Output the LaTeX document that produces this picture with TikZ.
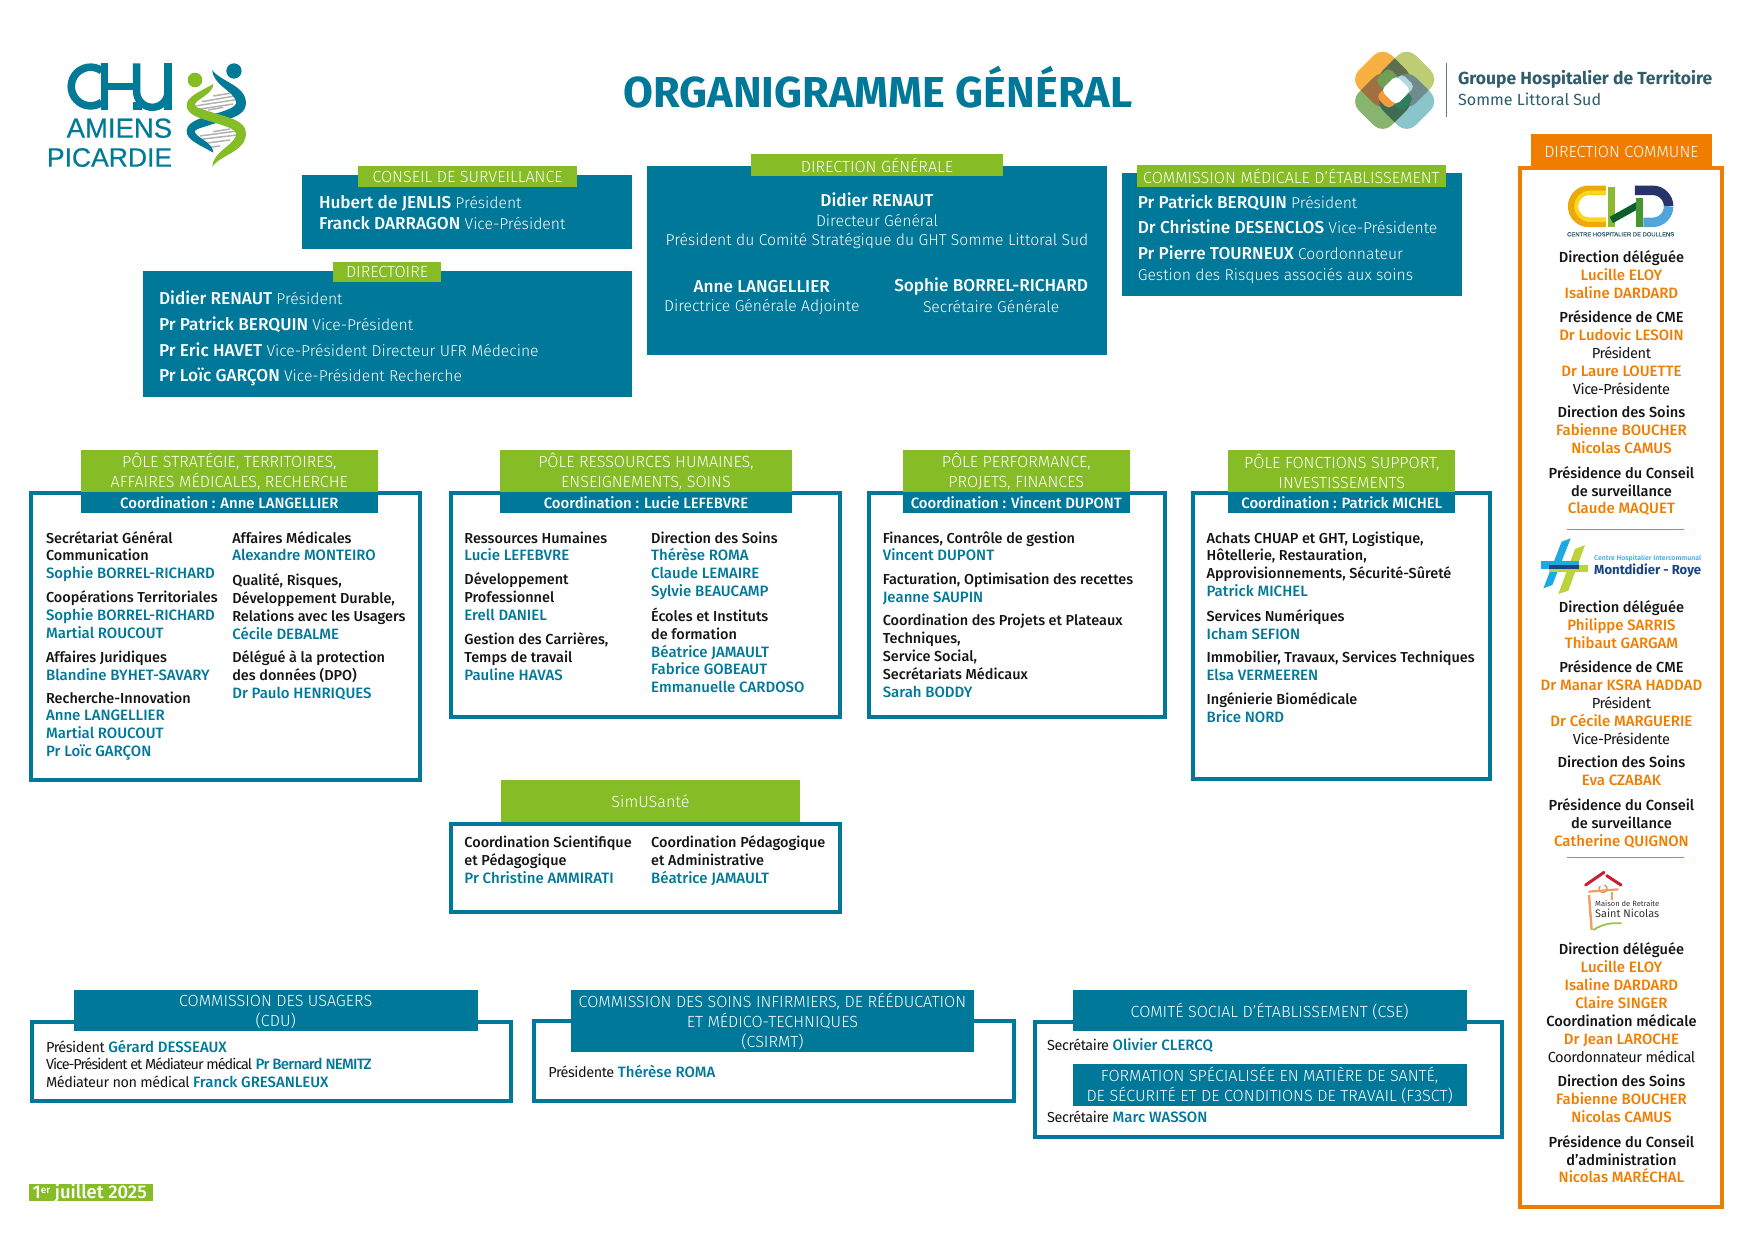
\documentclass[tikz,border=0pt]{standalone}
\usepackage{fontspec}
\usepackage{graphicx}
\setmainfont{Fira Sans}[BoldFont={Fira Sans Medium}]
\newfontfamily\lightf{Fira Sans Light}
\newfontfamily\boldf{Fira Sans}[UprightFont={Fira Sans Bold}]
\newfontfamily\arialf{Liberation Sans}[FakeBold=0.5]
\definecolor{chub}{HTML}{00789A}
\definecolor{chug}{HTML}{86BC25}
\definecolor{chuo}{HTML}{F07D00}
\definecolor{ink}{HTML}{141414}
\definecolor{slate}{HTML}{2F5D6B}
\newcommand{\nm}[1]{\textcolor{chub}{\fontsize{15}{17.9}\selectfont #1}}
\newcommand{\on}[1]{\textcolor{chuo}{\fontsize{15}{17.9}\selectfont #1}}
\newcommand{\lt}[1]{{\lightf\mdseries\fontsize{15.7}{20}\selectfont #1}}
\newcommand{\rg}[1]{{\mdseries\addfontfeature{LetterSpace=-3}#1}}
\tikzset{
 bodytext/.style={anchor=north west,inner sep=0,align=left,text=ink,font=\fontsize{14.45}{17.9}\selectfont\bfseries},
 boxtext/.style={anchor=north west,inner sep=0,align=left,text=white,font=\fontsize{17.2}{20}\selectfont\bfseries},
 boxmid/.style={inner sep=0,align=center,text=white,font=\fontsize{17.2}{20}\selectfont\bfseries},
 sidetext/.style={anchor=north,inner sep=0,align=center,text=ink,font=\fontsize{14.6}{17.9}\selectfont\bfseries},
 headtext/.style={inner sep=0,align=center,text=white,font=\fontsize{16.15}{20}\selectfont\lightf},
 coordtext/.style={inner sep=0,align=center,text=white,font=\fontsize{14.9}{17}\selectfont\bfseries},
 frameline/.style={draw=chub,line width=4pt,fill=white},
 sideframe/.style={draw=chuo,line width=4.2pt,fill=white},
 logoA/.style={x=0.3333pt,y=-0.3333pt,shift={(0pt,-30pt)}},
 logoB/.style={x=0.3333pt,y=-0.3333pt,shift={(1320pt,-30pt)}},
 logoC/.style={x=0.3333pt,y=-0.3333pt,shift={(1500pt,-520pt)}},
 logoD/.style={x=0.3333pt,y=-0.3333pt,shift={(1540pt,-860pt)}},
 lobe/.style={rounded corners=13pt},
 petal/.style={rounded corners=5pt},
}
\newcommand{\tb}[4]{\node[bodytext] (#1) at (#2,{#3-5.9}) {\strut #4};}
\newcommand{\wb}[4]{\node[boxtext] (#1) at (#2,{#3-7.3}) {\strut #4};}
\newcommand{\sd}[3]{\node[sidetext] (#1) at (1449.5,{#2-5.9}) {\strut #3};}
\newcommand{\tabbox}[7]{\fill[#6] (#2,#3) rectangle (#4,#5);
 \node[headtext] (#1) at ({(#2+#4)/2},{(#3+#5)/2+0.5}) {#7};}
\newcommand{\coordbox}[5]{\fill[chub] (#2,#3) rectangle (#4,#3+19);
 \node[coordtext] (#1) at ({(#2+#4)/2},#3+9.5) {#5};}
\newcommand{\lobeA}{(188,49) -- (287,148) -- (188,247) -- (89,148) -- cycle}
\newcommand{\lobeB}{(260,49) -- (359,148) -- (260,247) -- (161,148) -- cycle}
\newcommand{\lobeC}{(260,115) -- (359,214) -- (260,313) -- (161,214) -- cycle}
\newcommand{\lobeD}{(188,115) -- (287,214) -- (188,313) -- (89,214) -- cycle}
\begin{document}
\begin{tikzpicture}[x=1.11862pt,y=-1.11862pt]
\useasboundingbox (0,0) rectangle (1568,1108.5);
\fill[white] (0,0) rectangle (1568,1108.5);

% ---- CHU logo
\begin{scope}[logoA]
 \definecolor{lg}{HTML}{007A97}
 \draw[lg,line width=7.6pt] (305,122) arc[start angle=-55,end angle=-305,radius=58];
 \draw[lg,line width=7.4pt] (314,100) -- (314,240);
 \draw[lg,line width=7.4pt] (314,170) -- (410,170);
 \draw[lg,line width=7.4pt] (410,100) -- (410,185) arc[start angle=180,end angle=0,radius=47] (504,185) -- (504,100);
 \draw[lg,line width=7.4pt] (504,100) -- (504,240);
 \fill[lg] (400,215) rectangle (425,240);
 \node[anchor=base east,inner sep=0,text=lg,font=\fontsize{27.5}{30}\selectfont\arialf] (logoamiens) at (517,323) {AMIENS};
 \node[anchor=base east,inner sep=0,text=lg,font=\fontsize{26.5}{30}\selectfont\arialf] (logopicardie) at (517,410) {PICARDIE};
 \foreach \a/\b/\c/\d in {640/198/690/190,605/215/705/198,585/228/715/208,595/238/700/222,625/240/670/232,640/305/690/297,600/318/712/303,585/330/712/315,600/342/690/330,630/352/660/348}
   \draw[gray!60,line width=1.5pt] (\a,\b) -- (\c,\d);
 \fill[lg] (640,368) .. controls (600,345) and (558,330) .. (560,302) .. controls (562,268) and (620,262) .. (680,240) .. controls (700,232) and (712,225) .. (708,212) .. controls (695,180) and (640,165) .. (637,120) .. controls (660,155) and (738,165) .. (738,220) .. controls (738,260) and (680,268) .. (630,285) .. controls (600,295) and (580,298) .. (585,308) .. controls (595,325) and (640,340) .. (640,368) -- cycle;
 \fill[chug] (640,162) .. controls (600,185) and (558,200) .. (560,228) .. controls (562,262) and (620,268) .. (680,290) .. controls (700,298) and (712,305) .. (708,318) .. controls (695,350) and (640,365) .. (637,410) .. controls (660,375) and (738,365) .. (738,310) .. controls (738,270) and (680,262) .. (630,245) .. controls (600,235) and (580,232) .. (585,222) .. controls (595,205) and (640,190) .. (640,162) -- cycle;
 \fill[chug] (585,150) circle[radius=22];
 \fill[lg] (702,123) circle[radius=23];
\end{scope}

% ---- Title
\node[inner sep=0,text=chub,font=\fontsize{43.3}{46}\selectfont\boldf] (title) at (785,77.5) {ORGANIGRAMME GÉNÉRAL};

% ---- GHT logo
\begin{scope}[logoB]
 \fill[lobe,color={rgb,255:red,249;green,176;blue,67}] \lobeA;
 \fill[lobe,color={rgb,255:red,190;green,204;blue,115}] \lobeB;
 \fill[lobe,color={rgb,255:red,137;green,197;blue,203}] \lobeC;
 \fill[lobe,color={rgb,255:red,135;green,180;blue,110}] \lobeD;
 \begin{scope}\clip[lobe] \lobeA; \fill[lobe,color={rgb,255:red,94;green,110;blue,78}] \lobeB; \end{scope}
 \begin{scope}\clip[lobe] \lobeA; \fill[lobe,color={rgb,255:red,160;green,111;blue,66}] \lobeD; \end{scope}
 \begin{scope}\clip[lobe] \lobeB; \fill[lobe,color={rgb,255:red,111;green,139;blue,140}] \lobeC; \end{scope}
 \begin{scope}\clip[lobe] \lobeC; \fill[lobe,color={rgb,255:red,62;green,108;blue,82}] \lobeD; \end{scope}
 \fill[petal,color={rgb,255:red,112;green,160;blue,84}] (205,112) -- (245,152) -- (205,192) -- (165,152) -- cycle;
 \fill[petal,color={rgb,255:red,181;green,216;blue,220}] (245,130) -- (285,170) -- (245,210) -- (205,170) -- cycle;
 \fill[petal,color={rgb,255:red,47;green,127;blue,95}] (245,170) -- (282,207) -- (245,245) -- (208,207) -- cycle;
 \fill[petal,color={rgb,255:red,247;green,154;blue,60}] (205,165) -- (245,205) -- (205,238) -- (168,200) -- cycle;
 \fill[white,rounded corners=5pt] (228,136) -- (273,181) -- (228,226) -- (183,181) -- cycle;
 \draw[slate!80,line width=.8pt] (380,100) -- (380,260);
 \node[anchor=base west,inner sep=0,text=slate] (ghta) at (414,164) {\resizebox{254pt}{!}{\boldf\fontsize{20}{22}\selectfont Groupe Hospitalier de Territoire}};
 \node[anchor=base west,inner sep=0,text=slate] (ghtb) at (414,227) {\resizebox{143pt}{!}{\mdseries\fontsize{20}{22}\selectfont Somme Littoral Sud}};
\end{scope}

% ---- Top boxes
\fill[chub] (270,156) rectangle (565,223);
\tabbox{tcs}{320}{148}{516}{167}{chug}{CONSEIL DE SURVEILLANCE}
\wb{cs1}{285}{181}{Hubert de JENLIS \lt{Président}}
\wb{cs2}{285}{200}{Franck DARRAGON \lt{Vice-Président}}

\fill[chub] (128,242) rectangle (565,355);
\tabbox{tdi}{298}{234}{394}{252}{chug}{DIRECTOIRE}
\wb{di1}{142}{267}{Didier RENAUT \lt{Président}}
\wb{di2}{142}{290}{Pr Patrick BERQUIN \lt{Vice-Président}}
\wb{di3}{142}{313}{Pr Eric HAVET \lt{Vice-Président Directeur UFR Médecine}}
\wb{di4}{142}{336}{Pr Loïc GARÇON \lt{Vice-Président Recherche}}

\fill[chub] (578,148) rectangle (990,317);
\tabbox{tdg}{671}{138}{897}{157}{chug}{DIRECTION GÉNÉRALE}
\node[boxmid] (dg1) at (784,179) {Didier RENAUT};
\node[boxmid] (dg2) at (784,197) {\lt{Directeur Général}};
\node[boxmid] (dg3) at (784,215) {\lt{Président du Comité Stratégique du GHT Somme Littoral Sud}};
\node[boxmid] (dg4) at (681,256) {Anne LANGELLIER};
\node[boxmid] (dg5) at (681,274) {\lt{Directrice Générale Adjointe}};
\node[boxmid] (dg6) at (886,256) {Sophie BORREL-RICHARD};
\node[boxmid] (dg7) at (886,274) {\lt{Secrétaire Générale}};

\fill[chub] (1003,155) rectangle (1307,265);
\tabbox{tcm}{1016}{147.5}{1293}{167}{chug}{COMMISSION MÉDICALE D’ÉTABLISSEMENT}
\wb{cm1}{1017}{181}{Pr Patrick BERQUIN \lt{Président}}
\wb{cm2}{1017}{203}{Dr Christine DESENCLOS \lt{Vice-Présidente}}
\wb{cm3}{1017}{227}{Pr Pierre TOURNEUX \lt{Coordonnateur}}
\wb{cm4}{1017}{245}{\lt{Gestion des Risques associés aux soins}}

% ---- Pole 1
\draw[frameline] (27.8,440.8) rectangle (375.6,697.5);
\tabbox{tp1}{72}{402}{338}{440}{chug}{PÔLE STRATÉGIE, TERRITOIRES,\\AFFAIRES MÉDICALES, RECHERCHE}
\coordbox{cp1}{72}{440}{338}{Coordination : Anne LANGELLIER}
\tb{p1a}{41}{480}{Secrétariat Général\\Communication\\\nm{Sophie BORREL-RICHARD}}
\tb{p1b}{41}{533}{Coopérations Territoriales\\\nm{Sophie BORREL-RICHARD}\\\nm{Martial ROUCOUT}}
\tb{p1c}{41}{587}{Affaires Juridiques\\\nm{Blandine BYHET-SAVARY}}
\tb{p1d}{41}{623}{Recherche-Innovation\\\nm{Anne LANGELLIER}\\\nm{Martial ROUCOUT}\\\nm{Pr Loïc GARÇON}}
\tb{p1e}{207.5}{480}{Affaires Médicales\\\nm{Alexandre MONTEIRO}}
\tb{p1f}{207.5}{518}{Qualité, Risques,\\Développement Durable,\\Relations avec les Usagers\\\nm{Cécile DEBALME}}
\tb{p1g}{207.5}{587}{Délégué à la protection\\des données (DPO)\\\nm{Dr Paulo HENRIQUES}}

% ---- Pole 2
\draw[frameline] (402.8,440.8) rectangle (750.7,641);
\tabbox{tp2}{447}{402}{708}{440}{chug}{PÔLE RESSOURCES HUMAINES,\\ENSEIGNEMENTS, SOINS}
\coordbox{cp2}{447}{440}{708}{Coordination : Lucie LEFEBVRE}
\tb{p2a}{415}{480}{Ressources Humaines\\\nm{Lucie LEFEBVRE}}
\tb{p2b}{415}{517}{Développement\\Professionnel\\\nm{Erell DANIEL}}
\tb{p2c}{415}{571}{Gestion des Carrières,\\Temps de travail\\\nm{Pauline HAVAS}}
\tb{p2d}{582}{480}{Direction des Soins\\\nm{Thérèse ROMA}\\\nm{Claude LEMAIRE}\\\nm{Sylvie BEAUCAMP}}
\tb{p2e}{582}{549}{Écoles et Instituts\\de formation\\\nm{Béatrice JAMAULT}\\\nm{Fabrice GOBEAUT}\\\nm{Emmanuelle CARDOSO}}

% ---- Pole 3
\draw[frameline] (776.8,440.8) rectangle (1041.7,641);
\tabbox{tp3}{807}{402}{1010}{440}{chug}{PÔLE PERFORMANCE,\\PROJETS, FINANCES}
\coordbox{cp3}{807}{440}{1010}{Coordination : Vincent DUPONT}
\tb{p3a}{789}{480}{Finances, Contrôle de gestion\\\nm{Vincent DUPONT}}
\tb{p3b}{789}{517}{Facturation, Optimisation des recettes\\\nm{Jeanne SAUPIN}}
\tb{p3c}{789}{554}{Coordination des Projets et Plateaux\\Techniques,\\Service Social,\\Secrétariats Médicaux\\\nm{Sarah BODDY}}

% ---- Pole 4
\draw[frameline] (1066.8,440.8) rectangle (1331.7,696.5);
\tabbox{tp4}{1098}{402}{1301}{440}{chug}{PÔLE FONCTIONS SUPPORT,\\INVESTISSEMENTS}
\coordbox{cp4}{1098}{440}{1301}{Coordination : Patrick MICHEL}
\tb{p4a}{1078.5}{480}{Achats CHUAP et GHT, Logistique,\\Hôtellerie, Restauration,\\Approvisionnements, Sécurité-Sûreté\\\nm{Patrick MICHEL}}
\tb{p4b}{1078.5}{550}{Services Numériques\\\nm{Icham SEFION}}
\tb{p4c}{1078.5}{587}{Immobilier, Travaux, Services Techniques\\\nm{Elsa VERMEEREN}}
\tb{p4d}{1078.5}{624}{Ingénierie Biomédicale\\\nm{Brice NORD}}

% ---- SimUSanté
\draw[frameline] (402.8,736.5) rectangle (750.7,815.5);
\tabbox{tsi}{448}{697}{715}{735}{chug}{SimUSanté}
\tb{si1}{415}{752}{Coordination Scientifique\\et Pédagogique\\\nm{Pr Christine AMMIRATI}}
\tb{si2}{582}{752}{Coordination Pédagogique\\et Administrative\\\nm{Béatrice JAMAULT}}

% ---- Commissions
\draw[frameline] (28.8,913.5) rectangle (457.2,984.5);
\fill[chub] (66,885) rectangle (427,922);
\node[headtext] (tcd) at (246.5,905) {COMMISSION DES USAGERS\\(CDU)};
\tb{cd1}{41}{935}{\rg{Président} \nm{Gérard DESSEAUX}\\{\mdseries\addfontfeature{LetterSpace=-7}Vice-Président et Médiateur médical} \nm{\addfontfeature{LetterSpace=-5}Pr Bernard NEMITZ}\\\rg{Médiateur non médical} \nm{Franck GRESANLEUX}}

\draw[frameline] (477.8,913) rectangle (906.2,984.5);
\tabbox{tcs2}{510}{885}{871}{940}{chub}{COMMISSION DES SOINS INFIRMIERS, DE RÉÉDUCATION\\ET MÉDICO-TECHNIQUES\\(CSIRMT)}
\tb{cs3}{490}{958}{\rg{Présidente} \nm{Thérèse ROMA}}

\draw[frameline] (924.8,913.5) rectangle (1342.7,1016);
\tabbox{tce}{959}{885}{1311}{922}{chub}{COMITÉ SOCIAL D’ÉTABLISSEMENT (CSE)}
\tb{ce1}{936}{934}{\rg{Secrétaire} \nm{Olivier CLERCQ}}
\tabbox{tf3}{959}{951}{1311}{989}{chub}{FORMATION SPÉCIALISÉE EN MATIÈRE DE SANTÉ,\\DE SÉCURITÉ ET DE CONDITIONS DE TRAVAIL (F3SCT)}
\tb{ce2}{936}{998}{\rg{Secrétaire} \nm{Marc WASSON}}

% ---- Date
\fill[chug] (26,1058) rectangle (137,1074);
\node[anchor=base west,inner sep=0,text=white,font=\fontsize{18.4}{20}\selectfont\bfseries] (date) at (29,1071.5) {1\raisebox{5pt}{\fontsize{10}{11}\selectfont er} juillet 2025};

% ---- Direction commune
\draw[sideframe] (1359,150.5) rectangle (1539.5,1079);
\tabbox{tdc}{1369}{120}{1530}{150}{chuo}{DIRECTION COMMUNE}

\begin{scope}[logoB]
 \draw[color={rgb,255:red,236;green,170;blue,10},line width=9.5pt] (858,481) -- (806,481) arc[start angle=-90,end angle=-270,radius=48] -- (858,577);
 \draw[color={rgb,255:red,250;green,215;blue,30},line width=4pt] (858,488) -- (810,488) arc[start angle=-90,end angle=-270,radius=41] -- (858,570);
 \draw[color={rgb,255:red,141;green,185;blue,46},line width=7.5pt] (874,470) -- (874,590);
 \draw[color={rgb,255:red,12;green,95;blue,45},line width=7pt] (874,570) -- (960,522);
 \draw[color={rgb,255:red,70;green,150;blue,50},line width=7pt] (960,505) -- (960,590);
 \draw[color={rgb,255:red,38;green,52;blue,107},line width=9.5pt] (945,481) -- (998,481) arc[start angle=-90,end angle=0,radius=48];
 \draw[color={rgb,255:red,80;green,165;blue,220},line width=9.5pt] (1046,529) arc[start angle=0,end angle=90,radius=48] -- (970,577);
 \node[inner sep=0,text=slate] (chdcap) at (902,613) {\resizebox{107pt}{!}{\arialf\fontsize{6.5}{7}\selectfont CENTRE HOSPITALIER DE DOULLENS}};
\end{scope}

\sd{d1}{229}{Direction déléguée\\\on{Lucille ELOY}\\\on{Isaline DARDARD}}
\sd{d2}{283}{Présidence de CME\\\on{Dr Ludovic LESOIN}\\\rg{Président}\\\on{Dr Laure LOUETTE}\\\rg{Vice-Présidente}}
\sd{d3}{368}{Direction des Soins\\\on{Fabienne BOUCHER}\\\on{Nicolas CAMUS}}
\sd{d4}{422}{Présidence du Conseil\\de surveillance\\\on{Claude MAQUET}}
\draw[chuo,line width=1pt] (1401,473) -- (1505,473);

\begin{scope}[logoC]
 \fill[color={rgb,255:red,30;green,170;blue,225}] (185,65) -- (212,55) -- (157,195) -- (130,205) -- cycle;
 \fill[color={rgb,255:red,190;green,210;blue,60}] (225,87) -- (255,75) -- (205,212) -- (175,222) -- cycle;
 \fill[color={rgb,255:red,30;green,170;blue,225}] (122,123) rectangle (238,147);
 \fill[color={rgb,255:red,190;green,210;blue,60}] (148,135) rectangle (265,157);
 \fill[color={rgb,255:red,25;green,70;blue,130}] (148,135) rectangle (238,147);
 \node[anchor=base west,inner sep=0,text={rgb,255:red,50;green,170;blue,225}] (mda) at (282,120) {\resizebox{107pt}{!}{\bfseries\fontsize{8}{9}\selectfont Centre Hospitalier Intercommunal}};
 \node[anchor=base west,inner sep=0,text={rgb,255:red,25;green,70;blue,130}] (mdb) at (282,162) {\resizebox{107pt}{!}{\boldf\fontsize{13}{14}\selectfont Montdidier - Roye}};
\end{scope}

\sd{d5}{542}{Direction déléguée\\\on{Philippe SARRIS}\\\on{Thibaut GARGAM}}
\sd{d6}{596}{Présidence de CME\\\on{Dr Manar KSRA HADDAD}\\\rg{Président}\\\on{Dr Cécile MARGUERIE}\\\rg{Vice-Présidente}}
\sd{d7}{681}{Direction des Soins\\\on{Eva CZABAK}}
\sd{d8}{719}{Présidence du Conseil\\de surveillance\\\on{Catherine QUIGNON}}
\draw[chuo,line width=1pt] (1401,767) -- (1505,767);

\begin{scope}[logoD]
 \draw[color={rgb,255:red,200;green,30;blue,50},line width=3pt,line cap=round] (137,75) -- (192,37);
 \draw[color={rgb,255:red,200;green,30;blue,50},line width=3pt,line cap=round] (200,47) -- (243,75);
 \draw[color={rgb,255:red,235;green,150;blue,80},line width=1.5pt] (180,78) arc[start angle=220,end angle=-70,radius=12];
 \draw[color={rgb,255:red,235;green,160;blue,100},line width=2.2pt] (145,95) -- (235,88);
 \draw[color={rgb,255:red,235;green,160;blue,100},line width=2.4pt] (147,105) -- (155,210);
 \draw[color={rgb,255:red,235;green,160;blue,100},line width=2pt] (215,97) -- (215,120);
 \draw[color={rgb,255:red,150;green,195;blue,80},line width=1.8pt] (160,210) .. controls (190,190) and (220,188) .. (245,190);
 \node[anchor=base west,inner sep=0,text=black!80] (msa) at (165,138) {\resizebox{64pt}{!}{\mdseries\fontsize{8}{9}\selectfont Maison de Retraite}};
 \node[anchor=base west,inner sep=0,text=black!80] (msb) at (165,172) {\resizebox{64pt}{!}{\mdseries\fontsize{10}{11}\selectfont Saint Nicolas}};
\end{scope}

\sd{d9}{848}{Direction déléguée\\\on{Lucille ELOY}\\\on{Isaline DARDARD}\\\on{Claire SINGER}\\Coordination médicale\\\on{Dr Jean LAROCHE}\\\rg{Coordonnateur médical}}
\sd{d10}{966}{Direction des Soins\\\on{Fabienne BOUCHER}\\\on{Nicolas CAMUS}}
\sd{d11}{1020}{Présidence du Conseil\\d’administration\\\on{Nicolas MARÉCHAL}}
\end{tikzpicture}
\end{document}
